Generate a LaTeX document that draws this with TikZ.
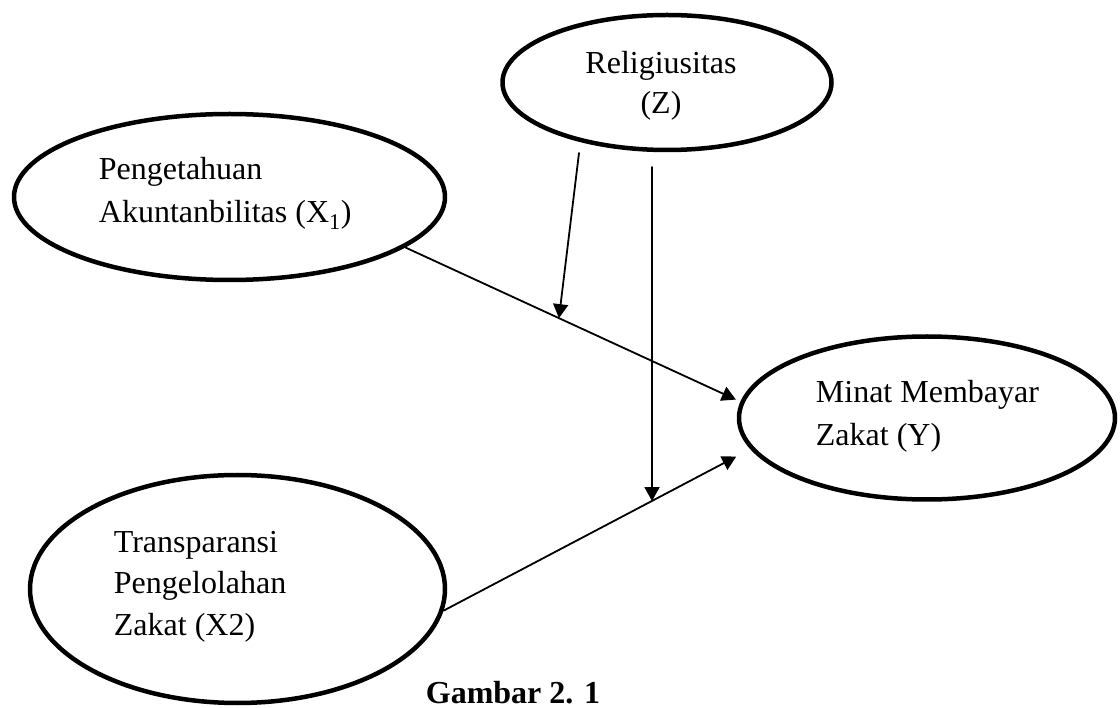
\documentclass[tikz,border=0pt]{standalone}
\usepackage{fontspec}
\setmainfont{Liberation Serif}
\usetikzlibrary{arrows.meta,shapes.geometric}

\begin{document}
\begin{tikzpicture}[line width=1.8pt, line cap=round, line join=round, >={Triangle[length=14pt,width=15pt]}, x=1pt, y=-1pt,
  var/.style={draw, ellipse, line width=4.5pt, inner sep=0pt},
  lbl/.style={inner sep=0pt, font=\fontsize{32}{43}\selectfont}]
  \useasboundingbox (0,0) rectangle (1120,708);
  % the four variables, drawn as plain ellipses; their labels sit off-centre
  \node[var, minimum width=329pt, minimum height=135pt] (rel) at (667,82.5) {};
  \node[var, minimum width=431pt, minimum height=166pt] (peng) at (229.5,197) {};
  \node[var, minimum width=376pt, minimum height=163pt] (minat) at (927,418) {};
  \node[var, minimum width=415pt, minimum height=228pt] (trans) at (237.5,589) {};

  \node[lbl, align=center, anchor=base, font=\fontsize{32}{40}\selectfont] (rel-txt) at (661,114) {Religiusitas\\(Z)};
  \node[lbl, align=left, anchor=base west] (peng-txt) at (98,223) {Pengetahuan\\Akuntanbilitas (X\textsubscript{1})};
  \node[lbl, align=left, anchor=base west] (minat-txt) at (815,446) {Minat Membayar\\Zakat (Y)};
  \node[lbl, align=left, anchor=base west, font=\fontsize{32}{41.5}\selectfont] (trans-txt) at (113,635) {Transparansi\\Pengelolahan\\Zakat (X2)};

  % direct effects; the moderator arrows land on these lines
  \draw[->, shorten >=5pt] (peng.-16.5) -- coordinate[pos=0.4587] (m1) (minat.175.1);
  \draw[->, shorten >=16pt] (trans.-6.3) -- coordinate[pos=0.6785] (m2) (minat.190.2);

  % free tails of the moderating arrows, just below Religiusitas
  \coordinate (z1) at (579,153);
  \coordinate (z2) at (652,167);
  \draw[->] (z1) -- (m1);
  \draw[->] (z2) -- (z2 |- m2);

  \node[font=\bfseries\fontsize{32}{38}\selectfont, inner sep=0pt, anchor=base west] (cap) at (425,703) {Gambar 2. 1};
\end{tikzpicture}
\end{document}
